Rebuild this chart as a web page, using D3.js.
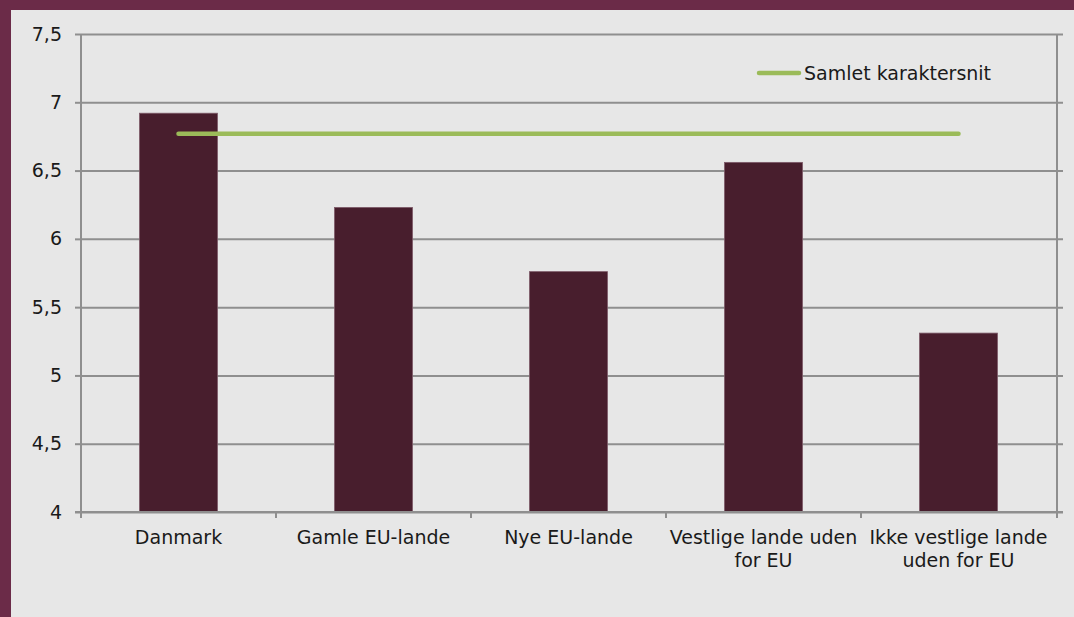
<!DOCTYPE html>
<html>
<head>
<meta charset="utf-8">
<script src="https://cdn.jsdelivr.net/npm/d3@7"></script>
<style>
  html, body { margin: 0; padding: 0; background: #e7e7e7; }
  svg { display: block; font-family: "DejaVu Sans", Verdana, sans-serif; }
</style>
</head>
<body>
<svg id="chart" width="1074" height="617"></svg>
<script>
// data
const categories = ["Danmark", "Gamle EU-lande", "Nye EU-lande", "Vestlige lande uden for EU", "Ikke vestlige lande uden for EU"];
const gradeValues = [6.92, 6.23, 5.76, 6.56, 5.31];
const overallValues = [6.77, 6.77, 6.77, 6.77, 6.77];
const lineName = "Samlet karaktersnit";
const yTicks = [4, 4.5, 5, 5.5, 6, 6.5, 7, 7.5];

const W = 1074, H = 617;
const plot = {left: 81, right: 1056, top: 34, bottom: 512};
const gridColor = "#8f8f8f";

const svg = d3.select("#chart");

// frame: maroon top and left bands
svg.append("rect").attr("x", 0).attr("y", 0).attr("width", W).attr("height", H).attr("fill", "#e7e7e7");
svg.append("rect").attr("x", 0).attr("y", 0).attr("width", W).attr("height", 10).attr("fill", "#6b2b48");
svg.append("rect").attr("x", 0).attr("y", 0).attr("width", 11).attr("height", H).attr("fill", "#6b2b48");

const x = d3.scaleBand()
    .domain(categories)
    .range([plot.left, plot.right])
    .paddingInner(0.6)
    .paddingOuter(0.3);

const y = d3.scaleLinear().domain([4, 7.5]).range([plot.bottom, plot.top]);

//Horizontal gridlines + y labels
const yAxis = svg.append("g")
    .attr("transform", `translate(${plot.left},0)`)
    .call(d3.axisLeft(y)
        .tickValues(yTicks)
        .tickSize(6)
        .tickPadding(13)
        .tickFormat(d => d3.format(".1~f")(d).replace(".", ",")));
yAxis.select(".domain").remove();
yAxis.selectAll(".tick line").attr("stroke", gridColor).attr("stroke-width", 2);
yAxis.selectAll(".tick").append("line")
    .attr("x1", 0).attr("x2", 1063 - plot.left)
    .attr("stroke", gridColor).attr("stroke-width", 2);
yAxis.selectAll(".tick text")
    .attr("font-size", 19).attr("fill", "#1a1a1a")
    .attr("font-family", "DejaVu Sans, Verdana, sans-serif");

// vertical axis lines
svg.append("line")
    .attr("x1", plot.left).attr("x2", plot.left)
    .attr("y1", plot.top).attr("y2", plot.bottom + 6)
    .attr("stroke", gridColor).attr("stroke-width", 2);
svg.append("line")
    .attr("x1", plot.right + 1).attr("x2", plot.right + 1)
    .attr("y1", plot.top).attr("y2", plot.bottom + 6)
    .attr("stroke", gridColor).attr("stroke-width", 2);

// category boundary ticks
svg.append("g").selectAll("line")
    .data(categories.slice(1))
    .join("line")
    .attr("x1", d => x(d) - x.step() * x.paddingInner() / 2)
    .attr("x2", d => x(d) - x.step() * x.paddingInner() / 2)
    .attr("y1", plot.bottom).attr("y2", plot.bottom + 6)
    .attr("stroke", gridColor).attr("stroke-width", 2);

// bars
svg.append("g").selectAll("rect")
    .data(gradeValues)
    .join("rect")
    .attr("x", (d, i) => x(categories[i]))
    .attr("y", d => y(d))
    .attr("width", x.bandwidth())
    .attr("height", d => y(4) - y(d))
    .attr("fill", "#481e2d")
    .attr("stroke", "#7d5a68")
    .attr("stroke-width", 0.8);

// redraw baseline over bars
svg.append("line")
    .attr("x1", plot.left - 6).attr("x2", 1063)
    .attr("y1", plot.bottom).attr("y2", plot.bottom)
    .attr("stroke", gridColor).attr("stroke-width", 2);

// overall average line
const line = d3.line()
    .x((d, i) => x(categories[i]) + x.bandwidth() / 2)
    .y(d => y(d));
svg.append("path")
    .datum(overallValues)
    .attr("d", line)
    .attr("fill", "none")
    .attr("stroke", "#9bbb59")
    .attr("stroke-width", 4.5)
    .attr("stroke-linecap", "round");

// category labels, wrapped to the band step
const labels = svg.append("g").selectAll("text")
    .data(categories)
    .join("text")
    .attr("x", d => x(d) + x.bandwidth() / 2)
    .attr("y", 544)
    .attr("text-anchor", "middle")
    .attr("font-size", 19)
    .attr("fill", "#1a1a1a")
    .text(d => d);

labels.each(function(d){
    const t = d3.select(this);
    const words = d.split(" ");
    const cx = +t.attr("x");
    t.text(null);
    let lineWords = [];
    let lineNo = 0;
    let tspan = t.append("tspan").attr("x", cx).attr("dy", 0);
    for (let w of words){
        lineWords.push(w);
        tspan.text(lineWords.join(" "));
        if (tspan.node().getComputedTextLength() > x.step() + 2 && lineWords.length > 1){
            lineWords.pop();
            tspan.text(lineWords.join(" "));
            lineWords = [w];
            lineNo++;
            tspan = t.append("tspan").attr("x", cx).attr("dy", 23).text(w);
        }
    }
});

// legend
const legend = svg.append("g");
legend.append("line")
    .attr("x1", 759).attr("x2", 799)
    .attr("y1", 73).attr("y2", 73)
    .attr("stroke", "#9bbb59").attr("stroke-width", 4.5)
    .attr("stroke-linecap", "round");
legend.append("text")
    .attr("x", 804).attr("y", 80)
    .attr("font-size", 19)
    .attr("fill", "#1a1a1a")
    .text(lineName);
</script>
</body>
</html>
